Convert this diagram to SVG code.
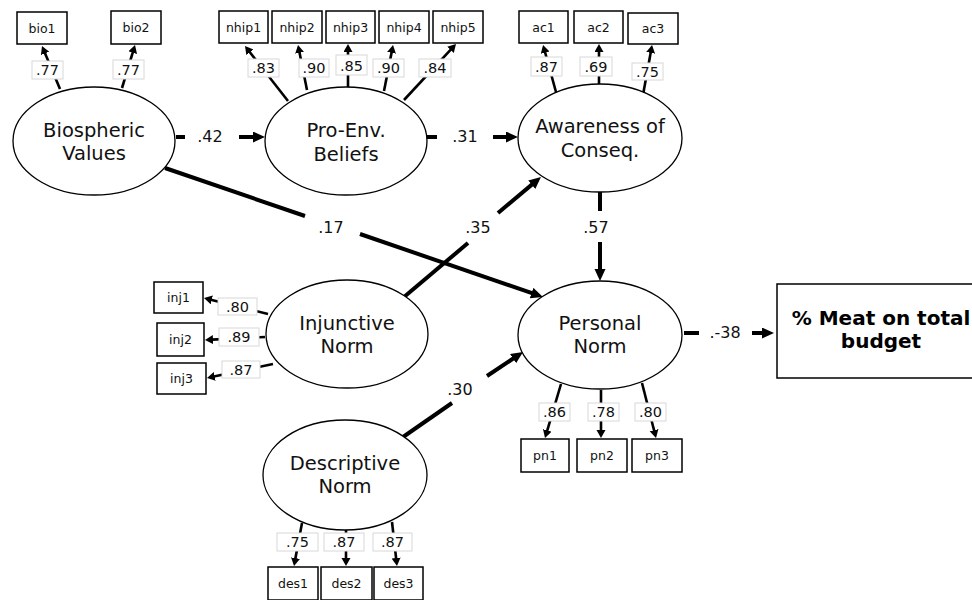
<svg xmlns="http://www.w3.org/2000/svg" width="972" height="600" viewBox="0 0 972 600">
<defs>
<marker id="ah" markerUnits="userSpaceOnUse" markerWidth="10" markerHeight="10" refX="1" refY="4.5" orient="auto"><path d="M0,0 L8,4.5 L0,9 z" fill="#000"/></marker>
<marker id="ahb" markerUnits="userSpaceOnUse" markerWidth="14" markerHeight="14" refX="2" refY="5.5" orient="auto"><path d="M0,0 L12,5.5 L0,11 z" fill="#000"/></marker>
<style>
.lat{fill:#fff;stroke:#000;stroke-width:1.3}
.obs{fill:#fff;stroke:#000;stroke-width:1.5}
.lt{font-family:"DejaVu Sans",Verdana,sans-serif;font-size:19.5px;text-anchor:middle;fill:#111}
.ot{font-family:"DejaVu Sans",Verdana,sans-serif;font-size:12.5px;text-anchor:middle;fill:#111}
.ind{stroke:#000;stroke-width:2.6;fill:none}
.str{stroke:#000;stroke-width:4;fill:none}
.lb{fill:#fff;stroke:#d8d8d8;stroke-width:1}
.lbt{font-family:"DejaVu Sans",Verdana,sans-serif;font-size:14.5px;text-anchor:middle;fill:#111}
.st{font-family:"DejaVu Sans",Verdana,sans-serif;font-size:16px;text-anchor:middle;fill:#111}
.bt{font-family:"DejaVu Sans",Verdana,sans-serif;font-size:20px;font-weight:bold;text-anchor:middle;fill:#000}
</style>
</defs>
<rect width="972" height="600" fill="#fff"/>
<g id="connectors">
<!-- indicator loadings -->
<line class="ind" x1="60" y1="89" x2="44.7" y2="52.5" marker-end="url(#ah)"/>
<line class="ind" x1="122" y1="88" x2="133" y2="51.7" marker-end="url(#ah)"/>
<line class="ind" x1="288" y1="101" x2="249.3" y2="51.5" marker-end="url(#ah)"/>
<line class="ind" x1="307" y1="90" x2="299.4" y2="51.9" marker-end="url(#ah)"/>
<line class="ind" x1="348" y1="87" x2="348" y2="51" marker-end="url(#ah)"/>
<line class="ind" x1="384" y1="91" x2="391.7" y2="51.9" marker-end="url(#ah)"/>
<line class="ind" x1="404" y1="100" x2="451.2" y2="49.1" marker-end="url(#ah)"/>
<line class="ind" x1="556" y1="92" x2="544.9" y2="51.7" marker-end="url(#ah)"/>
<line class="ind" x1="599" y1="84" x2="599" y2="51" marker-end="url(#ah)"/>
<line class="ind" x1="643" y1="95" x2="650.8" y2="51.9" marker-end="url(#ah)"/>
<line class="ind" x1="268" y1="314" x2="210.8" y2="299.7" marker-end="url(#ah)"/>
<line class="ind" x1="265" y1="337" x2="212" y2="339.6" marker-end="url(#ah)"/>
<line class="ind" x1="273" y1="364" x2="213.8" y2="376.6" marker-end="url(#ah)"/>
<line class="ind" x1="561" y1="384" x2="547" y2="431.3" marker-end="url(#ah)"/>
<line class="ind" x1="601" y1="390" x2="601" y2="431" marker-end="url(#ah)"/>
<line class="ind" x1="642" y1="383" x2="654.3" y2="431.2" marker-end="url(#ah)"/>
<line class="ind" x1="302" y1="523" x2="295.3" y2="559.1" marker-end="url(#ah)"/>
<line class="ind" x1="346" y1="530" x2="346" y2="559" marker-end="url(#ah)"/>
<line class="ind" x1="392" y1="522" x2="396.2" y2="559" marker-end="url(#ah)"/>
<!-- loading labels -->
<rect class="lb" x="32" y="61" width="31" height="18"/><text class="lbt" x="47.5" y="75">.77</text>
<rect class="lb" x="113" y="60" width="31" height="19"/><text class="lbt" x="128.5" y="75">.77</text>
<rect class="lb" x="248" y="59" width="31" height="18"/><text class="lbt" x="263.5" y="73">.83</text>
<rect class="lb" x="299" y="59" width="30" height="18"/><text class="lbt" x="314" y="73">.90</text>
<rect class="lb" x="336" y="55" width="31" height="20"/><text class="lbt" x="351.5" y="71">.85</text>
<rect class="lb" x="373" y="59" width="31" height="18"/><text class="lbt" x="388.5" y="73">.90</text>
<rect class="lb" x="419" y="59" width="32" height="18"/><text class="lbt" x="435" y="73">.84</text>
<rect class="lb" x="531" y="57" width="31" height="19"/><text class="lbt" x="546.5" y="72">.87</text>
<rect class="lb" x="580" y="57" width="32" height="19"/><text class="lbt" x="596" y="72">.69</text>
<rect class="lb" x="632" y="63" width="31" height="17"/><text class="lbt" x="647.5" y="77">.75</text>
<rect class="lb" x="218" y="298" width="39" height="17"/><text class="lbt" x="237.5" y="312">.80</text>
<rect class="lb" x="219" y="328" width="40" height="18"/><text class="lbt" x="239" y="342">.89</text>
<rect class="lb" x="222" y="361" width="38" height="17"/><text class="lbt" x="241" y="375">.87</text>
<rect class="lb" x="539" y="403" width="31" height="18"/><text class="lbt" x="554.5" y="417">.86</text>
<rect class="lb" x="588" y="403" width="31" height="18"/><text class="lbt" x="603.5" y="417">.78</text>
<rect class="lb" x="635" y="403" width="31" height="18"/><text class="lbt" x="650.5" y="417">.80</text>
<rect class="lb" x="277" y="533" width="41" height="18"/><text class="lbt" x="297.5" y="547">.75</text>
<rect class="lb" x="324" y="533" width="40" height="18"/><text class="lbt" x="344" y="547">.87</text>
<rect class="lb" x="373" y="533" width="39" height="18"/><text class="lbt" x="392.5" y="547">.87</text>
<!-- structural paths -->
<line class="str" x1="176" y1="137" x2="185" y2="137"/>
<line class="str" x1="239" y1="137" x2="255" y2="137" marker-end="url(#ahb)"/>
<text class="st" x="210" y="142">.42</text>
<line class="str" x1="427" y1="137" x2="437" y2="137"/>
<line class="str" x1="493" y1="137" x2="508" y2="137" marker-end="url(#ahb)"/>
<text class="st" x="465" y="142">.31</text>
<line class="str" x1="165" y1="168" x2="305" y2="216"/>
<line class="str" x1="360" y1="234" x2="533.5" y2="293.7" marker-end="url(#ahb)"/>
<text class="st" x="331" y="233">.17</text>
<line class="str" x1="404" y1="297" x2="468" y2="243"/>
<line class="str" x1="498" y1="213" x2="533.3" y2="183.4" marker-end="url(#ahb)"/>
<text class="st" x="478" y="233">.35</text>
<line class="str" x1="600" y1="192" x2="600" y2="211"/>
<line class="str" x1="600" y1="242" x2="600" y2="271" marker-end="url(#ahb)"/>
<text class="st" x="596" y="233">.57</text>
<line class="str" x1="403" y1="437" x2="452" y2="403"/>
<line class="str" x1="487" y1="376" x2="514.7" y2="357.5" marker-end="url(#ahb)"/>
<text class="st" x="460" y="395">.30</text>
<line class="str" x1="684" y1="333" x2="699" y2="333"/>
<line class="str" x1="752" y1="333" x2="764" y2="333" marker-end="url(#ahb)"/>
<text class="st" x="725" y="338">.-38</text>
</g>
<g id="bio1"><rect class="obs" x="17" y="12" width="50" height="32"/><text class="ot" x="42" y="32.5">bio1</text></g>
<g id="bio2"><rect class="obs" x="111" y="11" width="50" height="33"/><text class="ot" x="136" y="32">bio2</text></g>
<g id="nhip1"><rect class="obs" x="219" y="11" width="49" height="32"/><text class="ot" x="243.5" y="31.5">nhip1</text></g>
<g id="nhip2"><rect class="obs" x="272" y="11" width="50" height="32"/><text class="ot" x="297" y="31.5">nhip2</text></g>
<g id="nhip3"><rect class="obs" x="326" y="11" width="49" height="32"/><text class="ot" x="350.5" y="31.5">nhip3</text></g>
<g id="nhip4"><rect class="obs" x="379" y="11" width="50" height="32"/><text class="ot" x="404" y="31.5">nhip4</text></g>
<g id="nhip5"><rect class="obs" x="433" y="11" width="50" height="32"/><text class="ot" x="458" y="31.5">nhip5</text></g>
<g id="ac1"><rect class="obs" x="519" y="11" width="49" height="32"/><text class="ot" x="543.5" y="31.5">ac1</text></g>
<g id="ac2"><rect class="obs" x="574" y="11" width="49" height="32"/><text class="ot" x="598.5" y="31.5">ac2</text></g>
<g id="ac3"><rect class="obs" x="628" y="13" width="50" height="31"/><text class="ot" x="653" y="33">ac3</text></g>
<g id="inj1"><rect class="obs" x="154" y="282" width="49" height="31"/><text class="ot" x="178.5" y="302">inj1</text></g>
<g id="inj2"><rect class="obs" x="157" y="323" width="47" height="33"/><text class="ot" x="180.5" y="344">inj2</text></g>
<g id="inj3"><rect class="obs" x="157" y="363" width="49" height="31"/><text class="ot" x="181.5" y="383">inj3</text></g>
<g id="pn1"><rect class="obs" x="521" y="439" width="48" height="33"/><text class="ot" x="545" y="460">pn1</text></g>
<g id="pn2"><rect class="obs" x="577" y="439" width="50" height="33"/><text class="ot" x="602" y="460">pn2</text></g>
<g id="pn3"><rect class="obs" x="632" y="439" width="50" height="33"/><text class="ot" x="657" y="460">pn3</text></g>
<g id="des1"><rect class="obs" x="268" y="567" width="50" height="33"/><text class="ot" x="293" y="588">des1</text></g>
<g id="des2"><rect class="obs" x="321" y="567" width="51" height="33"/><text class="ot" x="346.5" y="588">des2</text></g>
<g id="des3"><rect class="obs" x="374" y="567" width="49" height="33"/><text class="ot" x="398.5" y="588">des3</text></g>
<g id="biospheric"><ellipse class="lat" cx="94" cy="141" rx="81" ry="54"/><text class="lt" x="94" y="137">Biospheric</text><text class="lt" x="94" y="160">Values</text></g>
<g id="proenv"><ellipse class="lat" cx="346" cy="141" rx="81" ry="54"/><text class="lt" x="346" y="137">Pro-Env.</text><text class="lt" x="346" y="161">Beliefs</text></g>
<g id="awareness"><ellipse class="lat" cx="600" cy="138" rx="82" ry="54"/><text class="lt" x="600" y="133">Awareness of</text><text class="lt" x="600" y="157">Conseq.</text></g>
<g id="injunctive"><ellipse class="lat" cx="347" cy="334" rx="81" ry="54"/><text class="lt" x="347" y="330">Injunctive</text><text class="lt" x="347" y="353">Norm</text></g>
<g id="personal"><ellipse class="lat" cx="600" cy="335" rx="82" ry="54"/><text class="lt" x="600" y="330">Personal</text><text class="lt" x="600" y="353">Norm</text></g>
<g id="descriptive"><ellipse class="lat" cx="345" cy="475" rx="82" ry="55"/><text class="lt" x="345" y="470">Descriptive</text><text class="lt" x="345" y="493">Norm</text></g>
<g id="meat"><rect class="obs" x="777" y="284" width="210" height="94"/><text class="bt" x="881" y="325">% Meat on total</text><text class="bt" x="881" y="348">budget</text></g>
</svg>
